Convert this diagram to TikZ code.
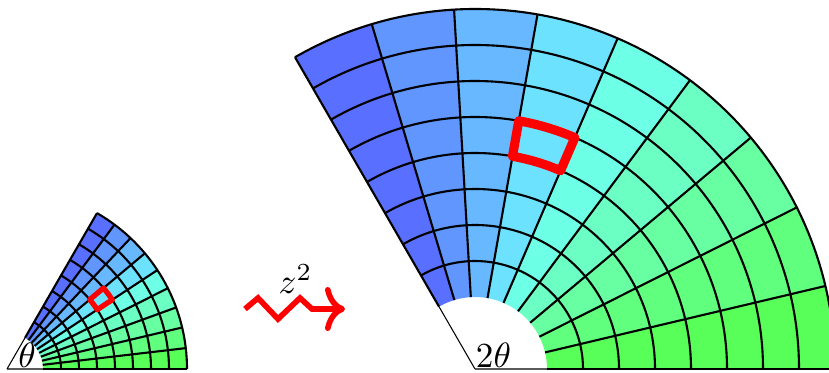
\documentclass[tikz,border=0pt]{standalone}
\usepackage{amsmath,amssymb}
\usetikzlibrary{arrows.meta}

\tikzset{
  gridline/.style={line width=0.6pt, black},
  holeline/.style={line width=0.3pt, black},
  markcell/.style={red, line join=round},
  maparrow/.style={red, line width=1.6pt, line join=miter, -{To[length=0.2cm, width=0.44cm]}}
}

\begin{document}
\begin{tikzpicture}
  \path[use as bounding box, clip] (0,0) rectangle (8.29,3.72);

  % Both sectors: origin x / scale / opening angle / width of the marked cell
  \foreach \ox/\sc/\ang/\rw in {0.07/0.18/60/1.5pt, 4.75/0.36/120/2.6pt}{
    \begin{scope}[shift={(\ox,0.03)}, scale=\sc]
      \pgfmathsetmacro{\st}{\ang/9}
      % coloured wedges, green at the bottom to blue at the top
      \foreach \j/\h in {0/120,1/131,2/143,3/156,4/170,5/192,6/208,7/220,8/232}{
        \pgfmathsetmacro{\hue}{\h/360}
        \pgfmathsetmacro{\sat}{0.65-0.08*sin(22.5*\j)}
        \definecolor{cellcol}{hsb}{\hue,\sat,1}
        \fill[cellcol] ({\j*\st}:2) arc[start angle=\j*\st, end angle=(\j+1)*\st, radius=2]
          -- ({(\j+1)*\st}:10) arc[start angle=(\j+1)*\st, end angle=\j*\st, radius=10] -- cycle;
      }
      % circles
      \foreach \k in {3,...,10}
        \draw[gridline] (0:\k) arc[start angle=0, end angle=\ang, radius=\k];
      % rays
      \foreach \j in {0,...,9}
        \draw[gridline] ({\j*\st}:2) -- ({\j*\st}:10);
      % edge of the hole
      \draw[holeline] (0,0) -- (0:2) (0,0) -- (\ang:2);
      % marked cell
      \draw[markcell, line width=\rw] ({5*\st}:6) arc[start angle=5*\st, end angle=6*\st, radius=6]
        -- ({6*\st}:7) arc[start angle=6*\st, end angle=5*\st, radius=7] -- cycle;
    \end{scope}
  }

  % Angle labels
  \node[anchor=base, inner sep=0pt] (theta) at (0.27,0.045) {$\theta$};
  \node[anchor=base, inner sep=0pt] (twotheta) at (4.935,0.05) {$2\theta$};

  % The map
  \coordinate (zstart) at (2.45,0.63);
  \coordinate (zend) at (3.45,0.63);
  \draw[maparrow] (zstart) -- ++(0.13,0.11) -- ++(0.2,-0.21) -- ++(0.22,0.21) -- ++(0.12,-0.11) -- (zend);
  \node[anchor=base, inner sep=0pt] (map) at (2.955,0.79) {$z^2$};
\end{tikzpicture}
\end{document}
